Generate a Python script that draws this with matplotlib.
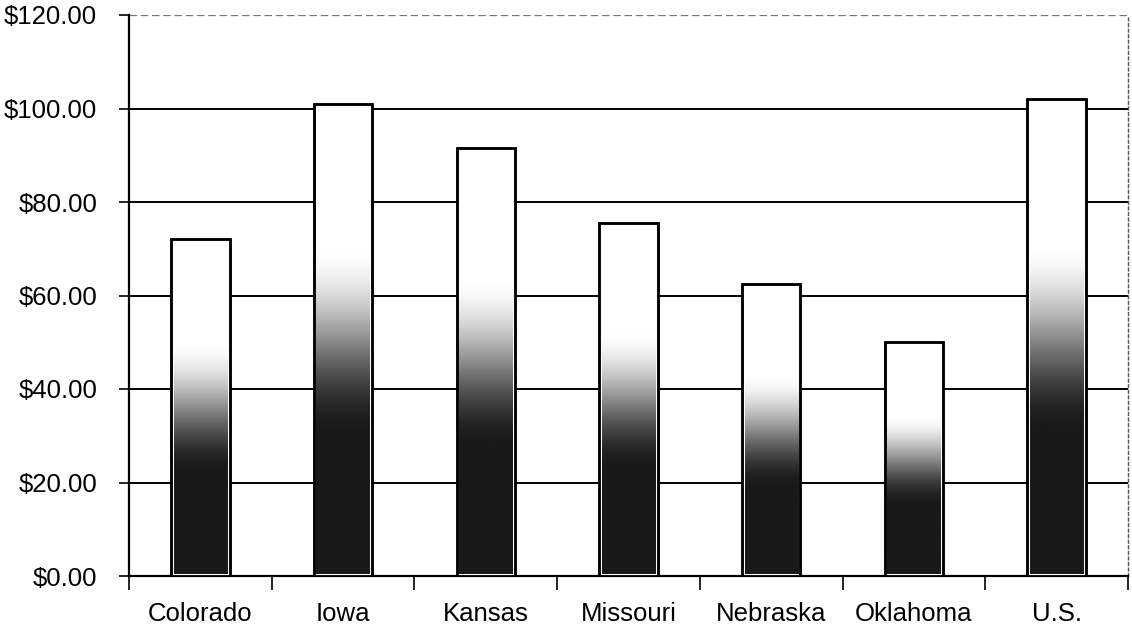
import numpy as np
import matplotlib
matplotlib.use("Agg")
import matplotlib.pyplot as plt
from matplotlib.ticker import FuncFormatter, FixedLocator

plt.rcParams['font.family'] = ['Liberation Sans', 'DejaVu Sans']

states = ["Colorado", "Iowa", "Kansas", "Missouri", "Nebraska", "Oklahoma", "U.S."]
values = [72.0, 101.0, 91.5, 75.5, 62.5, 50.0, 102.0]
y_ticks = [0, 20, 40, 60, 80, 100, 120]

fig = plt.figure(figsize=(11.32, 6.27), dpi=100)
ax = fig.add_axes([129 / 1132, 51 / 627, (1128 - 129) / 1132, (612 - 51) / 627])

x = np.arange(len(states))
width = 0.41

# vertical shading profile: dark at the base, fading to white toward the top
t = np.linspace(0, 1, 400)
s = np.clip((t - 0.30) / 0.40, 0, 1)
shade = 0.10 + 0.90 * (s * s * (3 - 2 * s))
grad = shade[:, None] * np.ones((1, 2))

bars = ax.bar(x, values, width=width, color="white", edgecolor="black",
              linewidth=1.8, zorder=3)
for rect in bars:
    x0 = rect.get_x()
    w = rect.get_width()
    h = rect.get_height()
    ax.imshow(grad, extent=[x0 + 0.018, x0 + w - 0.018, 0.5, h - 0.4],
              origin="lower", cmap="gray", vmin=0, vmax=1,
              aspect="auto", zorder=3.5, interpolation="bilinear")
for rect in bars:
    ax.add_patch(plt.Rectangle((rect.get_x(), 0), rect.get_width(), rect.get_height(),
                               fill=False, edgecolor="black", linewidth=1.8, zorder=4))

ax.set_xlim(-0.5, len(states) - 0.5)
ax.set_ylim(0, 120)

# horizontal grid lines
for v in y_ticks[1:-1]:
    ax.axhline(v, color="black", linewidth=1.4, zorder=1)
ax.axhline(120, color="#777777", linewidth=0.9, linestyle=(0, (6, 3)), zorder=1)

ax.yaxis.set_major_locator(FixedLocator(y_ticks))
ax.yaxis.set_major_formatter(FuncFormatter(lambda v, p: f"${v:.2f}"))
ax.tick_params(axis="y", direction="out", length=7, width=1.2, pad=16,
               labelsize=18.5, colors="black")

ax.xaxis.set_major_locator(FixedLocator(np.arange(-0.5, len(states), 1.0)))
ax.xaxis.set_major_formatter(FuncFormatter(lambda v, p: ""))
ax.xaxis.set_minor_locator(FixedLocator(x))
ax.set_xticklabels(states, minor=True)
ax.tick_params(axis="x", which="major", direction="out", length=10, width=1.2)
ax.tick_params(axis="x", which="minor", length=0, pad=19, labelsize=18.5)

for side in ["left", "bottom"]:
    ax.spines[side].set_linewidth(1.6)
    ax.spines[side].set_color("black")
ax.spines["top"].set_visible(False)
ax.spines["right"].set_color("#555555")
ax.spines["right"].set_linewidth(1.0)
ax.spines["right"].set_linestyle((0, (2, 2)))

fig.savefig("out.png", dpi=100, facecolor="white")
